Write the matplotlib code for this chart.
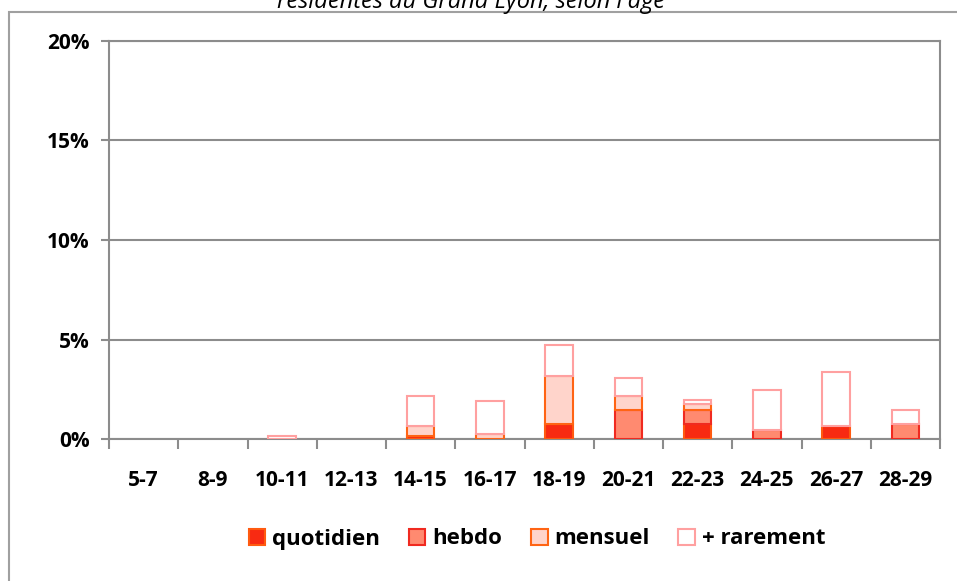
import numpy as np
import matplotlib
matplotlib.use("Agg")
import matplotlib.pyplot as plt
from matplotlib.patches import Rectangle

plt.rcParams['font.family'] = ['Open Sans', 'DejaVu Sans']

ages = ['5-7', '8-9', '10-11', '12-13', '14-15', '16-17', '18-19',
        '20-21', '22-23', '24-25', '26-27', '28-29']
quotidien = [0, 0, 0, 0, 0.15, 0, 0.75, 0, 0.75, 0, 0.64, 0]
hebdo = [0, 0, 0, 0, 0, 0, 0, 1.46, 0.71, 0.47, 0, 0.74]
mensuel = [0, 0, 0, 0, 0.50, 0.27, 2.42, 0.69, 0.28, 0, 0, 0]
rarement = [0, 0, 0.15, 0, 1.53, 1.63, 1.53, 0.93, 0.23, 2.01, 2.74, 0.73]

series = [
    ('quotidien', quotidien, '#f82a12', '#ff5a10'),
    ('hebdo', hebdo, '#ff8a70', '#f02a20'),
    ('mensuel', mensuel, '#ffd4cb', '#ff6414'),
    ('+ rarement', rarement, '#ffffff', '#ffa0a0'),
]

fig = plt.figure(figsize=(9.57, 5.81), dpi=100)
ax = fig.add_axes([109/957, 1-439/581, 831/957, 398/581])

x = np.arange(len(ages))
bottom = np.zeros(len(ages))
for name, vals, fc, ec in series:
    v = np.array(vals)
    keep = v > 0
    ax.bar(x[keep], v[keep], 0.4, bottom=bottom[keep], color=fc, edgecolor=ec,
           linewidth=1.5, label=name, zorder=3)
    bottom += v

grey = '#8c8c8c'
ax.set_xlim(-0.5, len(ages) - 0.5)
ax.set_ylim(0, 20)
ax.set_yticks([0, 5, 10, 15, 20])
ax.set_yticklabels(['0%', '5%', '10%', '15%', '20%'])
ax.yaxis.grid(True, color=grey, linewidth=1.5, zorder=0)
ax.set_xticks(x)
ax.set_xticklabels(ages)
ax.set_xticks(np.arange(len(ages) + 1) - 0.5, minor=True)
ax.tick_params(axis='x', which='major', length=0, pad=22)
ax.tick_params(axis='x', which='minor', length=7, width=1.5, color=grey)
ax.tick_params(axis='y', length=6, width=1.5, color=grey, pad=8)
for lab in ax.get_xticklabels() + ax.get_yticklabels():
    lab.set_fontsize(15)
    lab.set_fontweight('bold')
for s in ax.spines.values():
    s.set_color(grey)
    s.set_linewidth(1.5)

# chart area frame
fig.patches.append(Rectangle((9/957, -0.1), 1.2, 1 - 12/581 + 0.1,
                             transform=fig.transFigure, fill=False,
                             edgecolor='#a0a0a0', linewidth=1.5))

fig.text(471/957, 1 - 8/581, "résidentes du Grand Lyon, selon l'âge",
         ha='center', va='baseline', fontsize=17, style='italic')

fig.legend(loc='center', bbox_to_anchor=(537/957, 1 - 539/581), ncol=4,
           frameon=False, handlelength=0.75, handleheight=0.75,
           handletextpad=0.3, columnspacing=1.3,
           prop={'size': 16, 'weight': 'bold'})

fig.savefig('out.png', dpi=100)
